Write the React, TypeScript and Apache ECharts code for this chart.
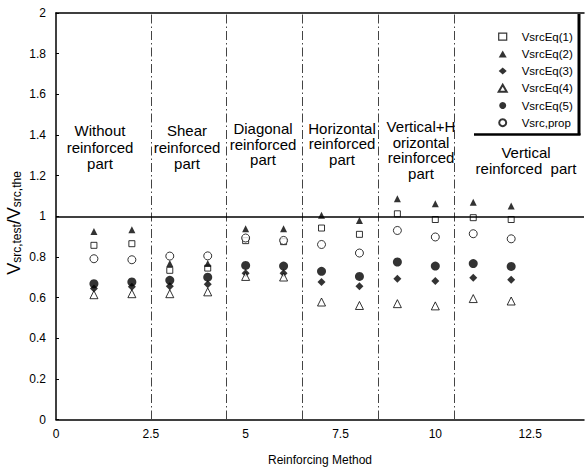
import React, { useEffect, useRef } from "react";
import * as echarts from "echarts";

// Reinforcing method index (x) for each specimen
const methods = [1, 2, 3, 4, 5, 6, 7, 8, 9, 10, 11, 12];

// Ratio V_src,test / V_src,the for each prediction equation
const vsrcEq1 = [0.857, 0.865, 0.734, 0.745, 0.88, 0.875, 0.942, 0.911, 1.012, 0.984, 0.993, 0.984];
const vsrcEq2 = [0.925, 0.934, 0.767, 0.767, 0.939, 0.939, 1.005, 0.979, 1.086, 1.061, 1.069, 1.05];
const vsrcEq3 = [0.644, 0.653, 0.655, 0.665, 0.72, 0.72, 0.677, 0.655, 0.693, 0.681, 0.698, 0.688];
const vsrcEq4 = [0.614, 0.619, 0.619, 0.628, 0.704, 0.701, 0.578, 0.561, 0.57, 0.559, 0.595, 0.583];
const vsrcEq5 = [0.668, 0.677, 0.685, 0.7, 0.758, 0.755, 0.729, 0.704, 0.775, 0.755, 0.767, 0.753];
const vsrcProp = [0.791, 0.786, 0.804, 0.805, 0.893, 0.881, 0.861, 0.819, 0.93, 0.898, 0.914, 0.889];

// Boundaries between reinforcing-method groups
const groupBounds = [2.5, 4.5, 6.5, 8.5, 10.5];

// Group captions
const groupLabels = [
  "Without\nreinforced\npart",
  "Shear\nreinforced\npart",
  "Diagonal\nreinforced\npart",
  "Horizontal\nreinforced\npart",
  "Vertical+H\norizontal\nreinforced\npart",
  "Vertical\nreinforced  part",
];

const FONT = "'Liberation Sans', Arial, Helvetica, sans-serif";

const pair = (ys: number[]) => methods.map((x, i) => [x, ys[i]]);

const openStyle = { color: "#fff", borderColor: "#000", borderWidth: 1 };
const filledStyle = { color: "#000", borderColor: "#000", borderWidth: 0 };

export default function App() {
  const ref = useRef<HTMLDivElement>(null);

  useEffect(() => {
    if (!ref.current) return;
    const chart = echarts.init(ref.current, undefined, { renderer: "svg" });

    const captionPos = [
      [100, 147, 16.5],
      [187, 147, 16.5],
      [263, 144, 15.5],
      [342, 143.5, 15.5],
      [421, 150, 15.5],
      [526, 160.5, 15.6],
    ];

    const option: any = {
      animation: false,
      backgroundColor: "#fff",
      textStyle: { fontFamily: FONT },
      grid: { left: 56, right: 0, top: 13, bottom: 52.5, containLabel: false },
      xAxis: [
        {
          type: "value",
          min: 0,
          max: 13.92,
          interval: 2.5,
          position: "bottom",
          name: "Reinforcing Method",
          nameLocation: "middle",
          nameGap: 34,
          nameTextStyle: { color: "#000", fontSize: 12, fontFamily: FONT },
          axisLine: { show: true, lineStyle: { color: "#000", width: 1.5 } },
          axisTick: { show: false },
          splitLine: { show: false },
          axisLabel: {
            color: "#000",
            fontSize: 12,
            fontFamily: FONT,
            margin: 8,
            formatter: (v: number) =>
              Math.abs(v / 2.5 - Math.round(v / 2.5)) < 1e-6 ? String(v) : "",
          },
        },
        {
          type: "value",
          min: 0,
          max: 13.92,
          position: "top",
          axisLine: { show: true, onZero: false, lineStyle: { color: "#000", width: 1.5 } },
          axisTick: { show: false },
          axisLabel: { show: false },
          splitLine: { show: false },
        },
      ],
      yAxis: {
        type: "value",
        min: 0,
        max: 2,
        interval: 0.2,
        axisLine: { show: true, lineStyle: { color: "#000", width: 1.5 } },
        axisTick: { show: true, inside: true, length: 3, lineStyle: { color: "#000" } },
        splitLine: { show: false },
        axisLabel: { color: "#000", fontSize: 12, fontFamily: FONT, margin: 10 },
      },
      legend: {
        orient: "vertical",
        left: 492.7,
        top: 25.2,
        itemWidth: 8,
        itemHeight: 7,
        itemGap: 4.2,
        textStyle: {
          color: "#000",
          fontSize: 11.5,
          fontFamily: FONT,
          lineHeight: 13,
          padding: [0, 0, 0, 10],
        },
        data: [
          { name: "VsrcEq(1)", itemStyle: { borderWidth: 1.2 } },
          "VsrcEq(2)",
          "VsrcEq(3)",
          "VsrcEq(4)",
          "VsrcEq(5)",
          "Vsrc,prop",
        ],
      },
      series: [
        {
          name: "VsrcEq(1)",
          type: "scatter",
          symbol: "rect",
          symbolSize: 6,
          itemStyle: openStyle,
          data: pair(vsrcEq1),
          markLine: {
            silent: true,
            symbol: "none",
            label: { show: false },
            lineStyle: { color: "#444", width: 1, type: [9, 3, 1.5, 3] },
            data: groupBounds.map((b) => ({ xAxis: b })),
          },
        },
        {
          name: "VsrcEq(2)",
          type: "scatter",
          symbol: "triangle",
          symbolSize: 7,
          itemStyle: filledStyle,
          data: pair(vsrcEq2),
          markLine: {
            silent: true,
            symbol: "none",
            label: { show: false },
            lineStyle: { color: "#000", width: 1.5, type: "solid" },
            data: [{ yAxis: 1 }],
          },
        },
        {
          name: "VsrcEq(3)",
          type: "scatter",
          symbol: "diamond",
          symbolSize: 8,
          itemStyle: filledStyle,
          data: pair(vsrcEq3),
        },
        {
          name: "VsrcEq(4)",
          type: "scatter",
          symbol: "triangle",
          symbolSize: 8,
          itemStyle: openStyle,
          data: pair(vsrcEq4),
        },
        {
          name: "VsrcEq(5)",
          type: "scatter",
          symbol: "circle",
          symbolSize: 9,
          itemStyle: filledStyle,
          data: pair(vsrcEq5),
        },
        {
          name: "Vsrc,prop",
          type: "scatter",
          symbol: "circle",
          symbolSize: 8,
          itemStyle: openStyle,
          data: pair(vsrcProp),
        },
      ],
      graphic: [
        // y-axis title with subscripts
        {
          type: "text",
          x: 14,
          y: 223,
          rotation: Math.PI / 2,
          style: {
            text: "{v|V}{s|src,test}{v|/V}{s|src,the}",
            align: "center",
            verticalAlign: "middle",
            fill: "#000",
            rich: {
              v: { fontSize: 18, fontFamily: FONT, fill: "#000", lineHeight: 18, verticalAlign: "bottom" },
              s: { fontSize: 12, fontFamily: FONT, fill: "#000", lineHeight: 12, verticalAlign: "bottom" },
            },
          },
        },
        // legend frame (right and bottom edges)
        {
          type: "line",
          shape: { x1: 579, y1: 14, x2: 579, y2: 135 },
          style: { stroke: "#000", lineWidth: 3 },
        },
        {
          type: "line",
          shape: { x1: 474, y1: 134.5, x2: 580.5, y2: 134.5 },
          style: { stroke: "#000", lineWidth: 2.5 },
        },
        // group captions
        ...groupLabels.map((t, i) => ({
          type: "text",
          x: captionPos[i][0],
          y: captionPos[i][1],
          style: {
            text: t,
            align: "center",
            verticalAlign: "middle",
            fontSize: 15,
            fontFamily: FONT,
            lineHeight: captionPos[i][2],
            fill: "#000",
          },
        })),
      ],
    };

    chart.setOption(option);
    return () => chart.dispose();
  }, []);

  return (
    <div
      ref={ref}
      style={{ position: "fixed", left: 0, top: 0, width: 587, height: 472, background: "#fff" }}
    />
  );
}
